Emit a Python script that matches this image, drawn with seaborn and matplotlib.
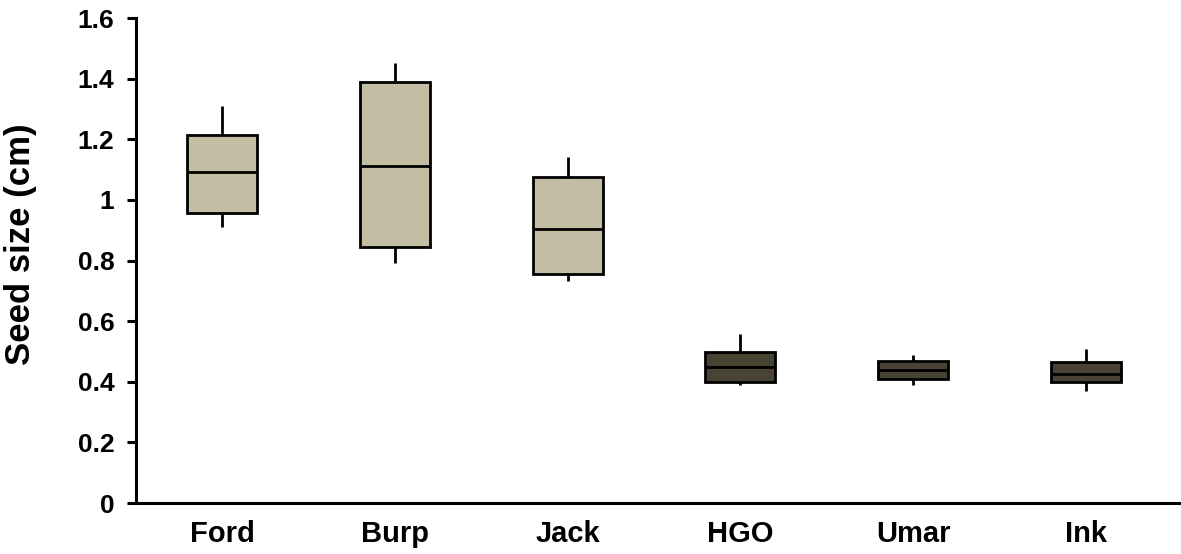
import numpy as np
import pandas as pd
import seaborn as sns
import matplotlib.pyplot as plt
from matplotlib.ticker import FuncFormatter, MultipleLocator

categories = ["Ford", "Burp", "Jack", "HGO", "Umar", "Ink"]
whisker_low = [0.912, 0.791, 0.733, 0.389, 0.389, 0.370]
quart_1 = [0.956, 0.846, 0.755, 0.400, 0.410, 0.398]
medians = [1.091, 1.112, 0.905, 0.449, 0.440, 0.426]
quart_3 = [1.214, 1.390, 1.077, 0.497, 0.469, 0.464]
whisker_high = [1.311, 1.451, 1.141, 0.558, 0.488, 0.507]
box_colors = ["#C8C09E", "#C8C09E", "#C8C09E", "#4B452F", "#4B452F", "#4B452F"]

rows = []
for i, c in enumerate(categories):
    for v in (whisker_low[i], quart_1[i], medians[i], quart_3[i], whisker_high[i]):
        rows.append({"Variety": c, "Seed size": v})
df = pd.DataFrame(rows)

sns.set_theme(style="white")
plt.rcParams["font.family"] = ["Liberation Sans", "DejaVu Sans"]
plt.rcParams["font.weight"] = "bold"

fig = plt.figure(figsize=(11.81, 5.54), dpi=100)
ax = fig.add_axes([0.115, 0.092, 0.885, 0.8755])

lw = 2.0
sns.boxplot(data=df, x="Variety", y="Seed size", hue="Variety",
            palette=dict(zip(categories, box_colors)), legend=False,
            order=categories, hue_order=categories,
            whis=(0, 100), showcaps=False, showfliers=False,
            width=0.405, linecolor="black", linewidth=lw, ax=ax,
            medianprops={"color": "black", "linewidth": lw},
            whiskerprops={"color": "black", "linewidth": lw},
            boxprops={"edgecolor": "black", "linewidth": lw})

ax.set_ylim(0, 1.6)
ax.set_xlim(-0.5, 5.55)
ax.yaxis.set_major_locator(MultipleLocator(0.2))
ax.yaxis.set_major_formatter(FuncFormatter(lambda v, p: f"{v:g}"))
ax.set_xlabel("")
ax.set_ylabel("Seed size (cm)", fontsize=25, fontweight="bold", color="black")
ax.yaxis.set_label_coords(-0.0947, 0.534)

for s in ["top", "right"]:
    ax.spines[s].set_visible(False)
for s in ["left", "bottom"]:
    ax.spines[s].set_color("black")
    ax.spines[s].set_linewidth(2.2)

ax.tick_params(axis="y", which="major", direction="out", length=6.5, width=2.2,
               color="black", labelsize=19, pad=9, left=True)
ax.tick_params(axis="x", length=0, labelsize=21, pad=12)
for lab in ax.get_xticklabels() + ax.get_yticklabels():
    lab.set_fontweight("bold")
    lab.set_color("black")

fig.savefig("out.png", dpi=100)
